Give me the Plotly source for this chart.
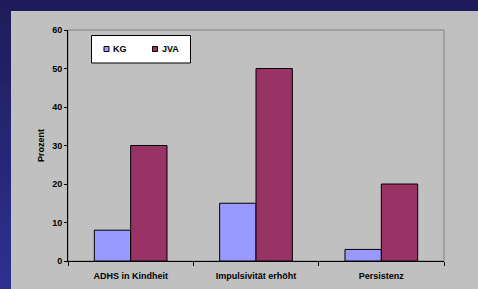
import plotly.graph_objects as go

categories = ["ADHS in Kindheit", "Impulsivität erhöht", "Persistenz"]
kg_values = [8, 15, 3]
jva_values = [30, 50, 20]
series_names = ["KG", "JVA"]
series_colors = ["#9999ff", "#993366"]
y_ticks = [0, 10, 20, 30, 40, 50, 60]

W, H = 478, 289
ML, MR, MT, MB = 68, 34, 30, 28
PW, PH = W - ML - MR, H - MT - MB

def px_x(x):
    return (x - ML) / PW

def px_y(y):
    return 1 - (y - MT) / PH

FONT = dict(family="Liberation Sans, Arial, sans-serif", size=9, color="black", weight="bold")

fig = go.Figure()
for name, vals, col in zip(series_names, [kg_values, jva_values], series_colors):
    fig.add_trace(go.Bar(name=name, x=categories, y=vals, showlegend=False,
                         marker=dict(color=col, line=dict(color="black", width=1))))

shapes = []
annotations = []
n = 24
c0 = (0x1e, 0x1c, 0x5a)
c1 = (0x2e, 0x30, 0x90)
for i in range(n):
    t = i / (n - 1)
    col = "rgb(%d,%d,%d)" % tuple(round(a + (b - a) * t) for a, b in zip(c0, c1))
    y0 = i * H / n
    y1 = (i + 1) * H / n + 1
    shapes.append(dict(type="rect", xref="paper", yref="paper", layer="below",
                       x0=px_x(0), x1=px_x(W), y0=px_y(y1), y1=px_y(y0),
                       fillcolor=col, line=dict(width=0)))
shapes.append(dict(type="rect", xref="paper", yref="paper", layer="below",
                   x0=px_x(11), x1=px_x(W + 2), y0=px_y(H + 2), y1=px_y(11),
                   fillcolor="#c0c0c0", line=dict(width=0)))
shapes.append(dict(type="rect", xref="paper", yref="paper", layer="below",
                   x0=0, x1=1, y0=0, y1=1,
                   fillcolor="rgba(0,0,0,0)", line=dict(color="#808080", width=1)))

# legend box
shapes.append(dict(type="rect", xref="paper", yref="paper", layer="above",
                   x0=px_x(91.5), x1=px_x(190.5), y0=px_y(63), y1=px_y(35.5),
                   fillcolor="white", line=dict(color="black", width=1)))
legend_pos = [104, 152.5]
for name, col, lx in zip(series_names, series_colors, legend_pos):
    shapes.append(dict(type="rect", xref="paper", yref="paper", layer="above",
                       x0=px_x(lx), x1=px_x(lx + 5), y0=px_y(51.5), y1=px_y(46.5),
                       fillcolor=col, line=dict(color="black", width=1)))
    annotations.append(dict(text=name, xref="paper", yref="paper", x=px_x(lx + 7),
                            y=px_y(49.5), xanchor="left", yanchor="middle",
                            showarrow=False, font=FONT))

fig.update_layout(
    width=W, height=H,
    margin=dict(l=ML, r=MR, t=MT, b=MB),
    paper_bgcolor="#1e1c5a",
    plot_bgcolor="#c0c0c0",
    barmode="group",
    bargap=0.42,
    bargroupgap=0,
    font=FONT,
    shapes=shapes,
    annotations=annotations,
    showlegend=False,
    xaxis=dict(showline=True, linecolor="black", linewidth=1, ticks="outside",
               tickson="boundaries", ticklen=4, tickcolor="black", tickfont=FONT,
               ticklabelstandoff=6, showgrid=False, zeroline=False, automargin=False),
    yaxis=dict(range=[0, 60], tickvals=y_ticks, showline=True, linecolor="black",
               linewidth=1, ticks="outside", ticklen=3, tickcolor="black",
               tickfont=FONT, showgrid=False, zeroline=False, automargin=False,
               title=dict(text="Prozent", font=FONT, standoff=6)),
)

fig.write_html("out.html", config={"displayModeBar": False},
               post_script="document.body.style.margin='0';document.body.style.overflow='hidden';")
